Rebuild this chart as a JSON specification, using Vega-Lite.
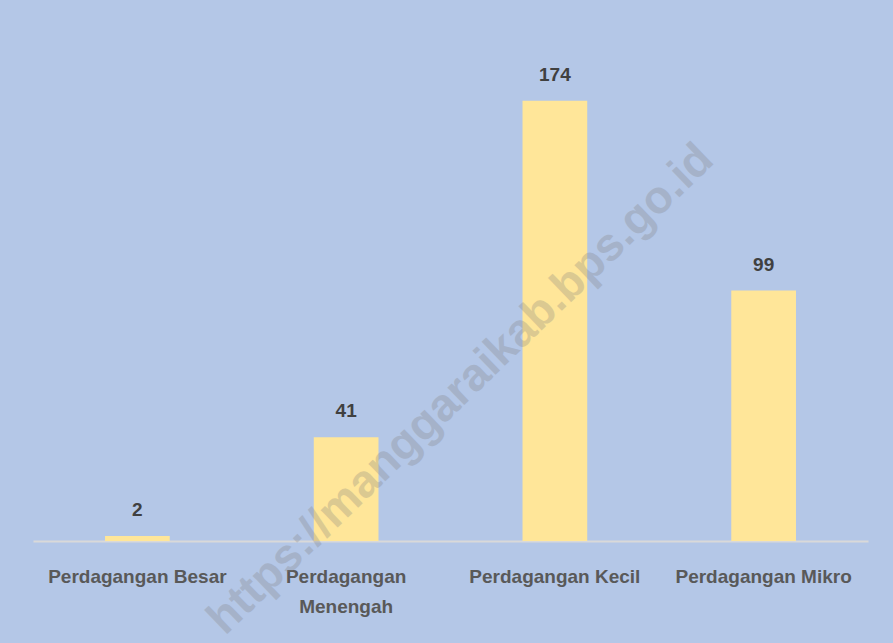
{
  "$schema": "https://vega.github.io/schema/vega-lite/v6.json",
  "autosize": {"type": "none"},
  "width": 835,
  "height": 506,
  "padding": {"left": 33, "top": 35, "right": 25, "bottom": 102},
  "background": "#B4C7E7",
  "config": {"view": {"stroke": null}},
  "datasets": {
    "main": [
      {"kategori": "Perdagangan Besar", "jumlah": 2},
      {"kategori": "Perdagangan Menengah", "jumlah": 41},
      {"kategori": "Perdagangan Kecil", "jumlah": 174},
      {"kategori": "Perdagangan Mikro", "jumlah": 99}
    ],
    "wm": [{"teks": "https://manggaraikab.bps.go.id"}]
  },
  "layer": [
    {
      "data": {"name": "main"},
      "mark": {"type": "bar", "color": "#FFE699"},
      "encoding": {
        "x": {
          "field": "kategori", "type": "nominal", "sort": null,
          "scale": {"paddingInner": 0.69, "paddingOuter": 0.345},
          "axis": {
            "title": null, "labelAngle": 0, "ticks": false,
            "domainColor": "#D9D9D9", "domainWidth": 2,
            "labelFont": "Liberation Sans", "labelFontSize": 19, "labelFontWeight": "bold",
            "labelColor": "#595959", "labelPadding": 26, "labelLineHeight": 30,
            "labelBaseline": "top",
            "labelExpr": "datum.label == 'Perdagangan Menengah' ? ['Perdagangan', 'Menengah'] : datum.label"
          }
        },
        "y": {
          "field": "jumlah", "type": "quantitative",
          "scale": {"domain": [0, 200]},
          "axis": null
        }
      }
    },
    {
      "data": {"name": "main"},
      "mark": {"type": "text", "baseline": "bottom", "dy": -16, "font": "Liberation Sans", "fontSize": 19, "fontWeight": "bold", "color": "#404040"},
      "encoding": {
        "x": {"field": "kategori", "type": "nominal", "sort": null},
        "y": {"field": "jumlah", "type": "quantitative"},
        "text": {"field": "jumlah", "type": "quantitative"}
      }
    },
    {
      "data": {"name": "wm"},
      "mark": {"type": "text", "angle": -44, "dx": -131, "font": "Liberation Sans", "fontSize": 46, "fontWeight": "bold", "color": "#7F7F7F", "opacity": 0.28, "align": "center", "baseline": "middle"},
      "encoding": {
        "x": {"datum": "Perdagangan Kecil"},
        "y": {"datum": 96},
        "text": {"field": "teks", "type": "nominal"}
      }
    }
  ]
}
